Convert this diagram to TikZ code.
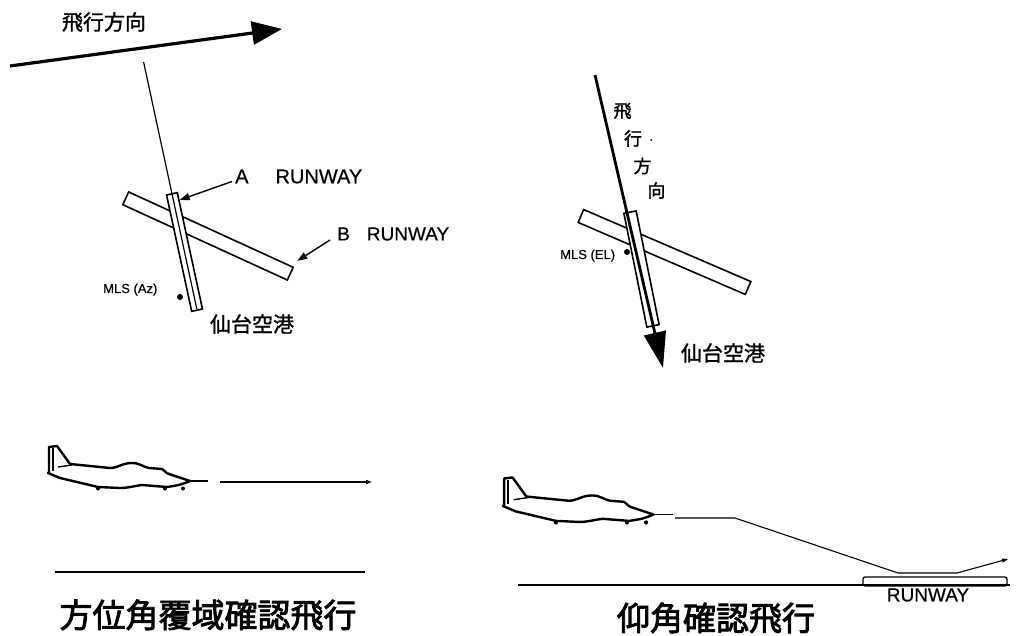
\documentclass[tikz,border=0pt]{standalone}
\usepackage{fontspec}
\setmainfont{Liberation Sans}[FakeBold=0.6]
\newfontfamily\jp{Noto Sans CJK JP}[FakeBold=1.3]
\newfontfamily\jpheavy{Noto Sans CJK JP}[FakeBold=2.5]
\usetikzlibrary{arrows.meta,calc}

\begin{document}
\begin{tikzpicture}[x=1pt,y=-1pt,
  runway/.style={draw, fill=white, line width=1.6pt, inner sep=0pt, rectangle},
  lbl/.style={inner sep=0pt, font=\fontsize{20}{20}\selectfont},
  small/.style={inner sep=0pt, font=\fontsize{13}{13}\selectfont},
  jlbl/.style={inner sep=0pt, font=\jp\fontsize{21}{21}\selectfont},
  jvert/.style={inner sep=0pt, font=\jp\fontsize{18}{18}\selectfont},
  title/.style={inner sep=0pt, font=\jpheavy\fontsize{33}{33}\selectfont},
  pointer/.style={line width=1.4pt, -{Triangle[length=10pt,width=7pt]}},
  pathline/.style={line width=1.1pt, -{Triangle[length=6pt,width=4pt]}},
  ground/.style={line width=1.8pt},
  mlsdot/.style={circle, fill, inner sep=0pt, minimum size=6pt},
  airplane/.pic={
    \draw[line width=2.4pt, line join=round, line cap=round]
      (1,0) -- (1,-25) -- (9,-26) -- (22,-8)
      -- (62,-4) .. controls (70,-4) and (74,-9) .. (84,-9)
      .. controls (92,-9) and (95,-5) .. (101,-4)
      -- (114,-3) .. controls (117,-2) and (117,1) .. (121,2)
      -- (142,9)
      .. controls (132,13) .. (119,15)
      -- (94,13) .. controls (86,14) and (80,16) .. (72,16)
      -- (50,15) -- (12,6) -- (0,1) -- cycle;
    \draw[line width=2.2pt] (5,-1) -- (5,-24);
    \draw[line width=1.4pt] (10,-5) -- (24,-7);
    \draw[line width=1.8pt] (142,9) -- (160,9);
    \fill (50,16.5) circle (2) (117,16.5) circle (2) (135,16.5) circle (2);
  }
]
\useasboundingbox (0,0) rectangle (1018,636);

% ---------- azimuth check: plan view ----------
\coordinate (hdgStart) at (10,66);
\coordinate (hdgEnd) at (282,29);
\draw[line width=3.2pt, -{Triangle[length=30pt,width=23pt]}] (hdgStart) -- (hdgEnd);
\node[jlbl] (hdgLbl) at (104,22) {飛行方向};

\node[runway, minimum width=181pt, minimum height=14pt, rotate=-24.6] (rwBl) at (208,236) {};
\node[runway, minimum width=119pt, minimum height=11pt, rotate=-77.8] (rwAl) at (184.5,252) {};
\coordinate (courseTop) at (143.6,62);
\draw[line width=1.2pt] (courseTop) -- ($(rwAl.east)!2pt!(rwAl.west)$);

\node[lbl, anchor=west] (lblA) at (235,176.5) {A\hspace{27pt}RUNWAY};
\draw[pointer] ($(lblA.west)+(-3,5)$) -- ($(rwAl.north west)!0.07!(rwAl.north east)$);
\node[lbl, anchor=west, font=\fontsize{19}{19}\selectfont] (lblB) at (337,234) {B\hspace{17pt}RUNWAY};
\draw[pointer] ($(lblB.west)+(-7,6)$) -- ($(rwBl.north east)+(3,-6)$);

\node[small, anchor=base west] (mlsAz) at (103,293) {MLS (Az)};
\node[mlsdot] (azDot) at (180,297) {};
\node[jlbl] (sendaiL) at (252,324) {仙台空港};

% ---------- elevation check: plan view ----------
\node[runway, minimum width=182pt, minimum height=14pt, rotate=-23.3] (rwBr) at (664.5,252) {};
\node[runway, minimum width=116pt, minimum height=12.5pt, rotate=-78.6] (rwAr) at (641.5,269) {};
\coordinate (elTop) at (595,75);
\coordinate (elTip) at (663,368);
\draw[line width=2.8pt, -{Triangle[length=36pt,width=22pt]}] (elTop) -- (elTip);

\node[jvert] (v1) at (622.5,111) {飛};
\node[jvert] (v2) at (633,138.5) {行};
\node[circle, fill, inner sep=0pt, minimum size=2pt] (vdot) at (651,140) {};
\node[jvert] (v3) at (642.5,166) {方};
\node[jvert] (v4) at (656.5,190.5) {向};

\node[small, anchor=base west] (mlsEl) at (560,259) {MLS (EL)};
\node[mlsdot] (elDot) at (627,252) {};
\node[jlbl] (sendaiR) at (723,353) {仙台空港};

% ---------- side views ----------
\pic at (48,472) {airplane};
\coordinate (azPathStart) at (220,482);
\coordinate (azPathEnd) at (372,482);
\draw[pathline] (azPathStart) -- (azPathEnd);
\coordinate (gL1) at (55,572);
\coordinate (gL2) at (365,572);
\draw[ground] (gL1) -- (gL2);
\node[title] (titleAz) at (208,615) {方位角覆域確認飛行};

\pic[scale=1.06] at (503,505) {airplane};
\node[draw, line width=1.3pt, rounded corners=2pt, inner sep=0pt,
      minimum width=144pt, minimum height=9pt] (rwSide) at (935,581.5) {};
\coordinate (gR1) at (518,585);
\coordinate (gR2) at (1010,585);
\draw[ground] (gR1) -- (gR2);
\coordinate (p0) at (675,518);
\coordinate (p1) at (735,518);
\coordinate (p2) at (898,573);
\coordinate (p3) at (957,573);
\coordinate (p4) at (1008,559);
\draw[pathline] (p0) -- (p1) -- (p2) -- (p3) -- (p4);
\node[lbl, font=\fontsize{19}{19}\selectfont] (rwSideLbl) at (928,595) {RUNWAY};
\node[title] (titleEl) at (716,618) {仰角確認飛行};
\end{tikzpicture}
\end{document}
